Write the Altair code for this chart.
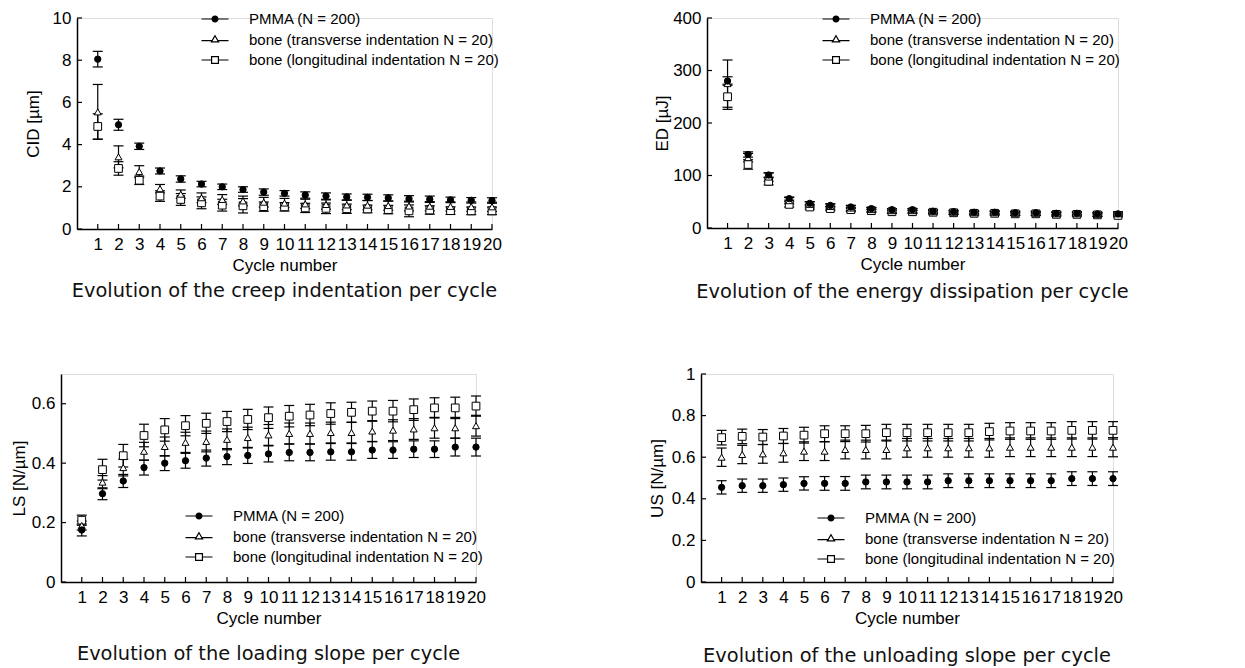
import altair as alt
import pandas as pd

cycles = list(range(1, 21))
series_names = [
    "PMMA (N = 200)",
    "bone (transverse indentation N = 20)",
    "bone (longitudinal indentation N = 20)",
]

# --- CID [µm]
cid_pmma = [8.05, 4.94, 3.92, 2.75, 2.37, 2.13, 2.00, 1.87, 1.75, 1.69, 1.61, 1.56, 1.52, 1.50, 1.47, 1.43, 1.41, 1.38, 1.36, 1.35]
cid_pmma_err = [0.37, 0.26, 0.15, 0.14, 0.15, 0.13, 0.13, 0.13, 0.15, 0.13, 0.15, 0.15, 0.14, 0.15, 0.15, 0.15, 0.15, 0.13, 0.13, 0.13]
cid_trans = [5.55, 3.42, 2.72, 1.91, 1.65, 1.48, 1.40, 1.33, 1.27, 1.23, 1.19, 1.16, 1.14, 1.13, 1.11, 1.09, 1.08, 1.07, 1.06, 1.05]
cid_trans_err = [1.30, 0.52, 0.28, 0.20, 0.20, 0.23, 0.23, 0.23, 0.23, 0.22, 0.22, 0.22, 0.22, 0.22, 0.22, 0.23, 0.22, 0.22, 0.22, 0.22]
cid_long = [4.86, 2.87, 2.31, 1.56, 1.40, 1.24, 1.13, 1.10, 1.06, 1.05, 1.00, 0.98, 0.96, 0.95, 0.92, 0.86, 0.90, 0.87, 0.86, 0.86]
cid_long_err = [0.60, 0.32, 0.20, 0.25, 0.28, 0.28, 0.28, 0.34, 0.22, 0.20, 0.22, 0.25, 0.22, 0.18, 0.20, 0.28, 0.20, 0.18, 0.18, 0.18]

# --- ED [µJ]
ed_pmma = [280, 140, 101, 56, 47, 43, 40, 37, 35, 35, 32, 31, 30, 30, 29, 29, 28, 28, 27, 27]
ed_pmma_err = [8, 5, 4, 3, 3, 3, 3, 2, 2, 2, 2, 2, 2, 2, 2, 2, 2, 2, 2, 2]
ed_trans = [275, 134, 97, 52, 45, 41, 38, 35, 33, 33, 31, 30, 29, 29, 28, 28, 27, 27, 26, 27]
ed_trans_err = [45, 8, 8, 6, 5, 5, 5, 4, 4, 4, 4, 4, 4, 4, 4, 4, 4, 4, 4, 4]
ed_long = [250, 121, 89, 45, 40, 37, 35, 33, 31, 31, 30, 29, 28, 28, 27, 27, 26, 26, 25, 24]
ed_long_err = [24, 9, 7, 5, 4, 4, 4, 3, 3, 3, 3, 3, 3, 3, 3, 3, 3, 3, 3, 3]

# --- LS [N/µm]
ls_pmma = [0.175, 0.297, 0.340, 0.385, 0.400, 0.408, 0.417, 0.422, 0.426, 0.431, 0.436, 0.436, 0.438, 0.438, 0.444, 0.444, 0.447, 0.447, 0.454, 0.454]
ls_pmma_err = [0.02, 0.02, 0.022, 0.025, 0.025, 0.025, 0.027, 0.027, 0.027, 0.027, 0.028, 0.028, 0.028, 0.028, 0.028, 0.028, 0.028, 0.028, 0.03, 0.03]
ls_trans = [0.190, 0.336, 0.385, 0.440, 0.456, 0.470, 0.473, 0.480, 0.486, 0.495, 0.500, 0.500, 0.503, 0.503, 0.508, 0.511, 0.515, 0.519, 0.519, 0.526]
ls_trans_err = [0.015, 0.022, 0.028, 0.03, 0.032, 0.034, 0.035, 0.035, 0.035, 0.035, 0.035, 0.035, 0.035, 0.035, 0.035, 0.035, 0.035, 0.035, 0.035, 0.035]
ls_long = [0.208, 0.378, 0.425, 0.493, 0.512, 0.526, 0.534, 0.540, 0.547, 0.553, 0.558, 0.562, 0.567, 0.571, 0.575, 0.575, 0.580, 0.586, 0.586, 0.592]
ls_long_err = [0.017, 0.035, 0.038, 0.038, 0.038, 0.034, 0.034, 0.034, 0.034, 0.036, 0.036, 0.036, 0.036, 0.034, 0.034, 0.036, 0.036, 0.034, 0.036, 0.034]

# --- US [N/µm]
us_pmma = [0.455, 0.463, 0.463, 0.468, 0.474, 0.474, 0.474, 0.481, 0.481, 0.481, 0.481, 0.487, 0.487, 0.487, 0.487, 0.487, 0.487, 0.497, 0.497, 0.497]
us_pmma_err = [0.032, 0.032, 0.032, 0.032, 0.032, 0.033, 0.033, 0.033, 0.033, 0.033, 0.033, 0.033, 0.033, 0.033, 0.033, 0.033, 0.033, 0.033, 0.033, 0.033]
us_trans = [0.600, 0.613, 0.616, 0.621, 0.629, 0.629, 0.637, 0.637, 0.637, 0.645, 0.645, 0.645, 0.645, 0.645, 0.648, 0.648, 0.648, 0.648, 0.648, 0.648]
us_trans_err = [0.044, 0.044, 0.045, 0.045, 0.045, 0.045, 0.045, 0.045, 0.045, 0.045, 0.045, 0.045, 0.045, 0.045, 0.045, 0.045, 0.045, 0.045, 0.045, 0.046]
us_long = [0.694, 0.700, 0.697, 0.702, 0.706, 0.713, 0.713, 0.713, 0.718, 0.718, 0.718, 0.718, 0.718, 0.723, 0.726, 0.726, 0.726, 0.729, 0.729, 0.729]
us_long_err = [0.035, 0.035, 0.036, 0.036, 0.038, 0.038, 0.038, 0.04, 0.04, 0.04, 0.04, 0.04, 0.04, 0.04, 0.04, 0.04, 0.04, 0.042, 0.042, 0.042]

cid_ticks = [0, 2, 4, 6, 8, 10]
ed_ticks = [0, 100, 200, 300, 400]
ls_ticks = [0, 0.2, 0.4, 0.6]
us_ticks = [0, 0.2, 0.4, 0.6, 0.8, 1]

legend_paths = [
    "M-1.5,0H-0.33M0.33,0H1.5M-0.33,0A0.33,0.33,0,1,0,0.33,0A0.33,0.33,0,1,0,-0.33,0Z",
    "M-1.5,0.12H-0.36M0.36,0.12H1.5M0,-0.42L0.4,0.26L-0.4,0.26Z",
    "M-1.5,0H-0.38M0.38,0H1.5M-0.38,-0.38H0.38V0.38H-0.38Z",
]
marker_shapes = ["circle", "triangle-up", "square"]
marker_fills = ["black", "white", "white"]
marker_sizes = [40, 48, 60]

AX_FONT = "Liberation Sans"
CAP_FONT = "DejaVu Sans"


def table(vals_list, errs_list):
    rows = []
    for name, vals, errs in zip(series_names, vals_list, errs_list):
        for c, v, e in zip(cycles, vals, errs):
            rows.append({"cycle": c, "series": name, "val": v, "lo": v - e, "hi": v + e})
    return pd.DataFrame(rows)


def panel(df, ytitle, ydom, yvals, caption, w, h, leg_x, leg_y, cap_offset, title_x):
    def X(field="cycle"):
        return alt.X(
            f"{field}:Q",
            scale=alt.Scale(domain=[0, 20], nice=False, zero=False),
            axis=alt.Axis(
                values=cycles, title="Cycle number", grid=False, tickSize=0,
                labelPadding=7, labelFont=AX_FONT, labelFontSize=17, labelColor="black",
                titleFont=AX_FONT, titleFontSize=17, titleFontWeight="normal", titleColor="black",
                titleY=36, titleBaseline="middle", domainColor="black", domainWidth=1.5,
                labelFlush=False, labelOverlap=False,
            ),
        )

    def Y(field):
        return alt.Y(
            f"{field}:Q",
            scale=alt.Scale(domain=ydom, nice=False, zero=True),
            axis=alt.Axis(
                values=yvals, format="~f", title=ytitle, grid=False, tickSize=0,
                labelPadding=6, labelFont=AX_FONT, labelFontSize=17, labelColor="black",
                titleFont=AX_FONT, titleFontSize=17, titleFontWeight="normal", titleColor="black",
                titleX=title_x, titleY=h / 2, titleBaseline="middle", titleAlign="center", titleAngle=270,
                domainColor="black", domainWidth=1.5, labelFlush=False,
            ),
        )

    base = alt.Chart(df)
    bars = base.mark_rule(color="black", strokeWidth=1.2).encode(x=X(), y=Y("lo"), y2="hi:Q")
    caps = (
        base.transform_fold(["lo", "hi"], as_=["end", "yv"])
        .mark_rule(color="black", strokeWidth=1.2, xOffset=-5, x2Offset=5)
        .encode(x=X(), x2="cycle:Q", y=Y("yv"))
    )
    xt = (
        alt.Chart(pd.DataFrame({"cycle": cycles}))
        .mark_rule(color="black", strokeWidth=1.2)
        .encode(x=X(), y=alt.value(h), y2=alt.value(h - 5))
    )
    yt = (
        alt.Chart(pd.DataFrame({"t": yvals}))
        .mark_rule(color="black", strokeWidth=1.2)
        .encode(x=alt.value(0), x2=alt.value(5), y=Y("t"))
    )
    layers = [xt, yt, bars, caps]
    for i in [2, 1, 0]:
        layers.append(
            base.transform_filter(alt.datum.series == series_names[i])
            .mark_point(shape=marker_shapes[i], filled=True, fill=marker_fills[i],
                        stroke="black", strokeWidth=1, size=marker_sizes[i], opacity=1)
            .encode(x=X(), y=Y("val"))
        )
    leg = alt.Legend(
        orient="none", legendX=leg_x, legendY=leg_y, title=None, padding=0,
        symbolSize=324, symbolOpacity=1, symbolStrokeWidth=1.2,
        labelFont=AX_FONT, labelFontSize=15, labelColor="black", labelOffset=24,
        labelLimit=500, rowPadding=2.5,
    )
    legend_layer = base.mark_point(filled=True, opacity=0, stroke="black", strokeWidth=1.2, size=324).encode(
        x=X(), y=Y("val"),
        shape=alt.Shape("series:N", scale=alt.Scale(domain=series_names, range=legend_paths), legend=leg),
        fill=alt.Fill("series:N", scale=alt.Scale(domain=series_names, range=marker_fills), legend=leg),
    )
    layers.append(legend_layer)
    return alt.layer(*layers).properties(
        width=w, height=h,
        title=alt.TitleParams(
            text=caption, orient="bottom", anchor="middle", font=CAP_FONT, fontSize=19.4,
            fontWeight="normal", color="#111111", offset=cap_offset,
        ),
    )


def indep(c):
    return c.resolve_scale(shape="independent", fill="independent").resolve_legend(
        shape="independent", fill="independent")


def spacer(wd):
    return (
        alt.Chart(pd.DataFrame({"s": [0]}))
        .mark_rule(opacity=0)
        .encode(x=alt.value(0), x2=alt.value(wd), y=alt.value(0))
        .properties(width=wd, height=1,
                    view=alt.ViewBackground(stroke="transparent", fill="transparent", strokeWidth=0))
    )


p1 = panel(table([cid_pmma, cid_trans, cid_long], [cid_pmma_err, cid_trans_err, cid_long_err]),
           "CID [µm]", [0, 10], cid_ticks, "Evolution of the creep indentation per cycle",
           415, 211, 128, -9, 9, -44)
p2 = panel(table([ed_pmma, ed_trans, ed_long], [ed_pmma_err, ed_trans_err, ed_long_err]),
           "ED [µJ]", [0, 400], ed_ticks, "Evolution of the energy dissipation per cycle",
           411, 210, 119, -9, 11, -45)
p3 = panel(table([ls_pmma, ls_trans, ls_long], [ls_pmma_err, ls_trans_err, ls_long_err]),
           "LS [N/µm]", [0, 0.7], ls_ticks, "Evolution of the loading slope per cycle",
           415, 208, 128, 132, 19, -42)
p4 = panel(table([us_pmma, us_trans, us_long], [us_pmma_err, us_trans_err, us_long_err]),
           "US [N/µm]", [0, 1], us_ticks, "Evolution of the unloading slope per cycle",
           412, 208, 120, 134, 21, -44)

top = indep(alt.hconcat(spacer(15), indep(alt.hconcat(p1, p2, spacing=146)), spacing=0))
bottom = indep(alt.hconcat(spacer(1), indep(alt.hconcat(p3, p4, spacing=157)), spacing=0))

chart = (
    indep(alt.concat(top, bottom, columns=1, spacing=62, align="none"))
    .properties(padding=0)
    .configure_view(stroke="transparent")
    .configure(font=AX_FONT, background="white")
)

chart.save("out.html", embed_options={"renderer": "svg", "actions": False})
